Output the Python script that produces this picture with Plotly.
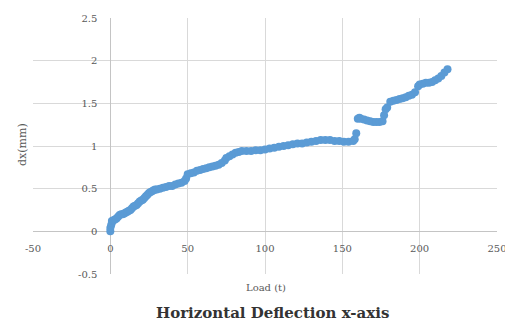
import plotly.graph_objects as go

load = [0, 0, 0.5, 1, 1, 2, 3, 4, 5, 6, 7, 8, 9, 10, 11, 12, 13, 14, 15, 16, 17, 18, 19, 20,
        21, 22, 23, 24, 25, 26, 27, 28, 29, 30, 32, 34, 36, 38, 40, 42, 44, 46, 48, 49, 50,
        52, 54, 56, 58, 60, 62, 64, 66, 68, 70, 72, 74, 75, 77, 79, 81, 83, 85, 88, 91, 94,
        97, 100, 103, 106, 109, 112, 115, 118, 121, 124, 127, 130, 133, 136, 139, 142, 145,
        148, 151, 154, 157, 158, 159, 160, 161, 162, 164, 166, 168, 170, 172, 174, 176, 177,
        178, 179, 181, 183, 185, 187, 189, 191, 193, 195, 197, 199, 200, 202, 204, 206, 208,
        210, 212, 214, 216, 218]
dx = [0.0, 0.04, 0.07, 0.1, 0.12, 0.13, 0.14, 0.15, 0.17, 0.19, 0.2, 0.2, 0.21, 0.22, 0.23,
      0.24, 0.25, 0.27, 0.29, 0.3, 0.31, 0.33, 0.35, 0.36, 0.37, 0.39, 0.41, 0.43, 0.45, 0.46,
      0.47, 0.48, 0.49, 0.49, 0.5, 0.51, 0.52, 0.53, 0.53, 0.55, 0.56, 0.57, 0.59, 0.62, 0.67,
      0.68, 0.69, 0.71, 0.72, 0.73, 0.74, 0.75, 0.76, 0.77, 0.78, 0.8, 0.83, 0.86, 0.88, 0.9,
      0.92, 0.93, 0.94, 0.94, 0.94, 0.95, 0.95, 0.96, 0.97, 0.98, 0.99, 1.0, 1.01, 1.02, 1.03,
      1.03, 1.04, 1.05, 1.06, 1.07, 1.07, 1.07, 1.06, 1.06, 1.05, 1.05, 1.06, 1.08, 1.15,
      1.32, 1.33, 1.32, 1.31, 1.3, 1.29, 1.28, 1.28, 1.28, 1.29, 1.36, 1.43, 1.45, 1.52, 1.53,
      1.54, 1.55, 1.56, 1.57, 1.59, 1.6, 1.63, 1.7, 1.72, 1.73, 1.74, 1.74, 1.75, 1.77, 1.79,
      1.82, 1.86, 1.9]

x_ticks = [-50, 0, 50, 100, 150, 200, 250]
y_ticks = [-0.5, 0, 0.5, 1, 1.5, 2, 2.5]
x_range = [-50, 250]
y_range = [-0.5, 2.5]

title_text = "Horizontal Deflection x-axis"
x_title = "Load (t)"
y_title = "dx(mm)"

serif = "DejaVu Serif, serif"
grid = "#d9d9d9"
tick_font = dict(family=serif, size=10, color="#595959")

fig = go.Figure(go.Scatter(
    x=load, y=dx, mode="markers",
    marker=dict(color="#5b9bd5", size=8, line=dict(width=0)),
    showlegend=False,
))

x_pos = (0 - y_range[0]) / (y_range[1] - y_range[0])
y_pos = (0 - x_range[0]) / (x_range[1] - x_range[0])

fig.update_layout(
    width=505, height=324,
    margin=dict(l=33, r=8, t=18, b=50),
    paper_bgcolor="white", plot_bgcolor="white",
    font=dict(family=serif, size=10, color="#595959"),
    xaxis=dict(range=x_range, tickvals=x_ticks, ticktext=[str(v) for v in x_ticks],
               showgrid=True, gridcolor=grid, gridwidth=1, automargin=False,
               zeroline=True, zerolinecolor="#c4c4c4", zerolinewidth=1,
               showline=False, anchor="free", position=x_pos, domain=[0, 1],
               ticks="outside", ticklen=8, tickcolor="rgba(0,0,0,0)",
               ticklabeloverflow="allow", tickfont=tick_font),
    yaxis=dict(range=y_range, tickvals=y_ticks, ticktext=[str(v) for v in y_ticks],
               showgrid=True, gridcolor=grid, gridwidth=1, automargin=False,
               zeroline=True, zerolinecolor="#c4c4c4", zerolinewidth=1,
               showline=False, anchor="free", position=y_pos, domain=[0, 1],
               ticks="outside", ticklen=11, tickcolor="rgba(0,0,0,0)",
               ticklabeloverflow="allow", tickfont=tick_font),
    annotations=[
        dict(text=title_text, xref="paper", yref="paper", x=(272 - 33) / 464,
             y=-(313 - 274) / 256, xanchor="center", yanchor="middle", showarrow=False,
             font=dict(family=serif, size=15, color="#333333", weight="bold")),
        dict(text=x_title, xref="paper", yref="paper", x=(266 - 33) / 464,
             y=-(287 - 274) / 256, xanchor="center", yanchor="middle", showarrow=False,
             font=dict(family=serif, size=10, color="#595959")),
        dict(text=y_title, xref="paper", yref="paper", x=(22 - 33) / 464,
             y=(274 - 145) / 256, xanchor="center", yanchor="middle", showarrow=False,
             textangle=-90, font=dict(family=serif, size=11, color="#595959")),
    ],
)

fig.write_html("out.html", config={"displayModeBar": False},
               post_script="document.body.style.margin='0';")
